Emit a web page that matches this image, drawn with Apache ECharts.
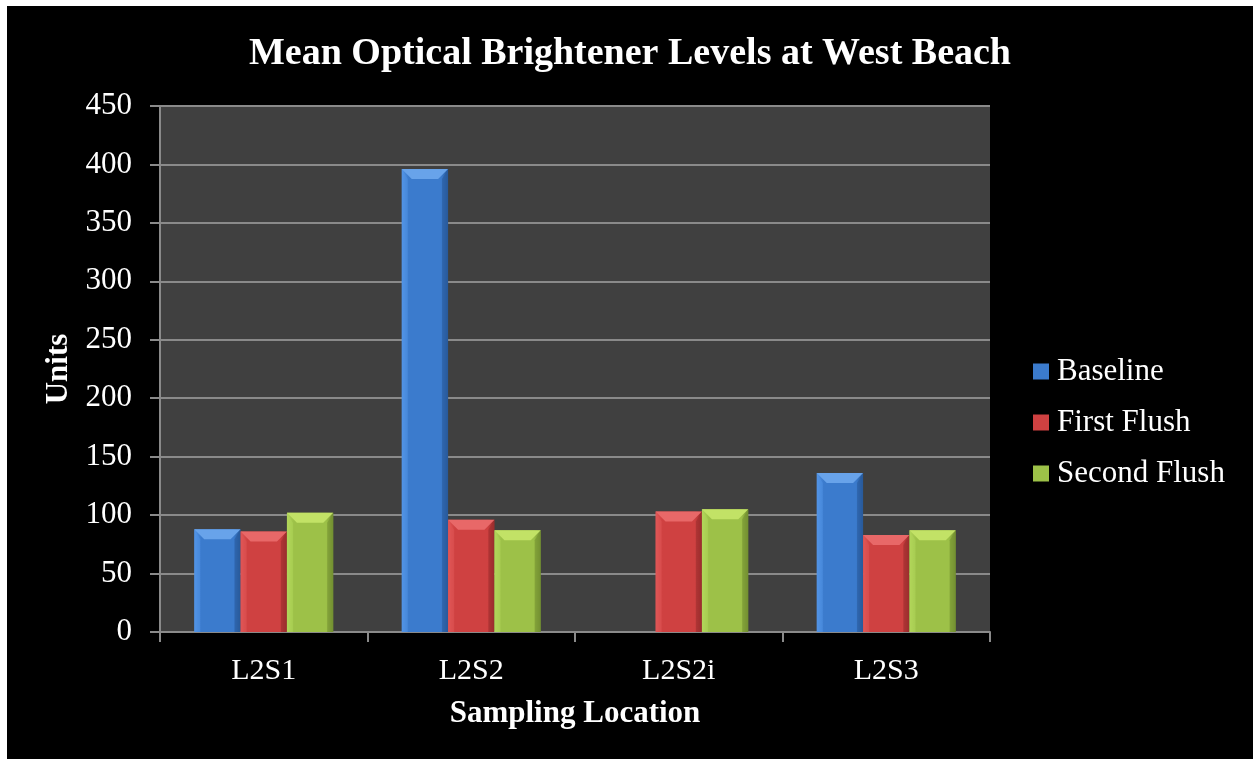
<!DOCTYPE html>
<html>
<head>
<meta charset="utf-8">
<script src="https://cdn.jsdelivr.net/npm/echarts@6/dist/echarts.min.js"></script>
<style>
  html, body { margin: 0; padding: 0; background: #ffffff; }
  #chart { position: absolute; left: 7px; top: 6px; width: 1246px; height: 753px; background: #000000; }
</style>
</head>
<body>
<div id="chart"></div>
<script>
// Sampling locations along the x axis
const categories = ['L2S1', 'L2S2', 'L2S2i', 'L2S3'];
// Mean optical brightener readings (units) per flush stage
const baseline    = [88, 396, null, 136];
const firstFlush  = [86, 96, 103, 83];
const secondFlush = [102, 87, 105, 87];
const seriesNames = ['Baseline', 'First Flush', 'Second Flush'];

const serif = '"Liberation Serif", "Times New Roman", serif';

// Palette for each stage: body, lit edge, dark edge, top bevel
const palettes = [
  { body: '#3b7bcd', light: '#5394e6', dark: '#285a9a', cap: '#68a3ea' },
  { body: '#cf4141', light: '#e05656', dark: '#9a2d2d', cap: '#e86868' },
  { body: '#9dc148', light: '#b2d65a', dark: '#738f31', cap: '#c2e266' }
];

const GROUP_RATIO = 0.67; // share of each category band covered by the three bars
const BEVEL = 10;

// Bevelled column drawn from the category index and value via the axis scales
function makeRenderer(seriesIndex) {
  const p = palettes[seriesIndex];
  return function (params, api) {
    const val = api.value(1);
    if (val == null || isNaN(val)) return null;
    const cat = api.value(0);
    const base = api.coord([cat, 0]);
    const top = api.coord([cat, val]);
    const band = api.size([1, 0])[0];
    const group = band * GROUP_RATIO;
    const bw = group / 3;
    const x0 = base[0] - group / 2 + bw * seriesIndex;
    const x1 = x0 + bw;
    const y0 = top[1];
    const y1 = base[1];
    const b = Math.min(BEVEL, (y1 - y0) / 2);
    return {
      type: 'group',
      children: [
        {
          type: 'rect',
          shape: { x: x0, y: y0, width: bw, height: y1 - y0 },
          style: {
            fill: new echarts.graphic.LinearGradient(0, 0, 1, 0, [
              { offset: 0, color: p.light },
              { offset: 0.15, color: p.body },
              { offset: 0.85, color: p.body },
              { offset: 1, color: p.dark }
            ])
          }
        },
        {
          type: 'polygon',
          shape: { points: [[x0, y0], [x1, y0], [x1 - b, y0 + b], [x0 + b, y0 + b]] },
          style: { fill: p.cap }
        },
        {
          type: 'polygon',
          shape: { points: [[x1, y0], [x1, y1], [x1 - b * 0.6, y1], [x1 - b * 0.6, y0 + b]] },
          style: { fill: p.dark, opacity: 0.55 }
        },
        {
          type: 'polygon',
          shape: { points: [[x0, y0], [x0 + b * 0.6, y0 + b], [x0 + b * 0.6, y1], [x0, y1]] },
          style: { fill: p.light, opacity: 0.45 }
        }
      ]
    };
  };
}

const stageValues = [baseline, firstFlush, secondFlush];

const chart = echarts.init(document.getElementById('chart'));
chart.setOption({
  backgroundColor: '#000000',
  animation: false,
  title: {
    text: 'Mean Optical Brightener Levels at West Beach',
    left: 'center',
    top: 24,
    textStyle: { color: '#ffffff', fontFamily: serif, fontSize: 38, fontWeight: 'bold' }
  },
  legend: {
    orient: 'vertical',
    left: 1021,
    top: 345,
    itemWidth: 16,
    itemHeight: 16,
    itemGap: 20,
    icon: 'rect',
    data: seriesNames.map((n, i) => ({ name: n, itemStyle: { color: palettes[i].body } })),
    textStyle: { color: '#ffffff', fontFamily: serif, fontSize: 31, padding: [0, 0, 0, 3] }
  },
  grid: {
    left: 153,
    right: 263,
    top: 100,
    bottom: 127,
    show: true,
    backgroundColor: '#404040',
    borderWidth: 0
  },
  xAxis: {
    type: 'category',
    data: categories,
    name: 'Sampling Location',
    nameLocation: 'middle',
    nameGap: 66,
    nameTextStyle: { color: '#ffffff', fontFamily: serif, fontSize: 31, fontWeight: 'bold' },
    axisLine: { lineStyle: { color: '#8a8a8a', width: 2 } },
    axisTick: { show: true, length: 10, lineStyle: { color: '#8a8a8a', width: 2 } },
    axisLabel: { color: '#ffffff', fontFamily: serif, fontSize: 30, margin: 24 }
  },
  yAxis: {
    type: 'value',
    min: 0,
    max: 450,
    interval: 50,
    name: 'Units',
    nameLocation: 'middle',
    nameGap: 86,
    nameTextStyle: { color: '#ffffff', fontFamily: serif, fontSize: 31, fontWeight: 'bold' },
    axisLine: { show: true, lineStyle: { color: '#8a8a8a', width: 2 } },
    axisTick: { show: true, length: 10, lineStyle: { color: '#8a8a8a', width: 2 } },
    axisLabel: { color: '#ffffff', fontFamily: serif, fontSize: 31, margin: 28 },
    splitLine: { lineStyle: { color: '#8a8a8a', width: 2 } }
  },
  series: stageValues.map((values, i) => ({
    name: seriesNames[i],
    type: 'custom',
    renderItem: makeRenderer(i),
    itemStyle: { color: palettes[i].body },
    encode: { x: 0, y: 1 },
    data: values.map((v, c) => [c, v])
  }))
});
</script>
</body>
</html>
